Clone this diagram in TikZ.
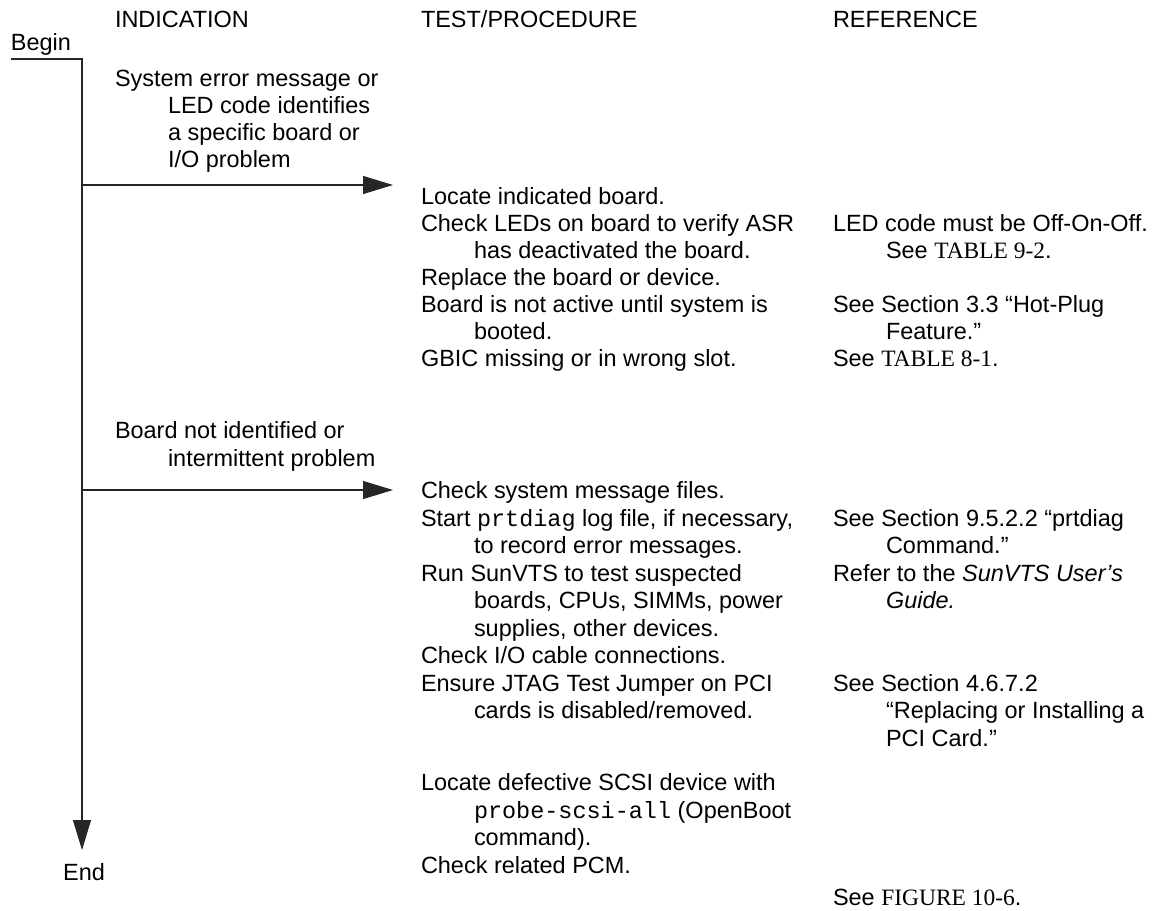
\documentclass[tikz,border=0pt]{standalone}
\usepackage{fontspec}
\setmainfont{Liberation Sans}
\setmonofont{Liberation Mono}
\newfontfamily\refserif{Liberation Serif}
\usetikzlibrary{arrows.meta}
\begin{document}
\begin{tikzpicture}[x=0.75pt,y=-0.75pt,
  txt/.style={anchor=base west,inner sep=0pt,outer sep=0pt,font=\fontsize{17.6pt}{20pt}\selectfont},
  flow/.style={line width=0.8pt,draw=black!85},
  tip/.style={-{Triangle[length=22.5pt,width=13.5pt]}}]
\useasboundingbox (0,0) rectangle (1169,910);
% headers
\node[txt] (hInd) at (115,27) {INDICATION};
\node[txt] (hTest) at (421,27) {TEST/PROCEDURE};
\node[txt] (hRef) at (833,27) {REFERENCE};
% begin / end
\node[txt] (begin) at (11,50) {Begin};
\node[txt,anchor=base] (end) at (84,880) {End};
% flow line
\coordinate (bstart) at (11,59);
\coordinate (corner) at (82,59);
\coordinate (etip) at (82,850);
\coordinate (br1) at (82,185);
\coordinate (tip1) at (393,185);
\coordinate (br2) at (82,490);
\coordinate (tip2) at (393,490);
\draw[flow,tip] (bstart) -- (corner) -- (etip);
\draw[flow,tip] (br1) -- (tip1);
\draw[flow,tip] (br2) -- (tip2);
% indication 1
\node[txt] (i1a) at (115,86) {System error message or};
\node[txt] (i1b) at (168,113) {LED code identifies};
\node[txt] (i1c) at (168,140) {a specific board or};
\node[txt] (i1d) at (168,167) {I/O problem};
% indication 2
\node[txt] (i2a) at (115,438) {Board not identified or};
\node[txt] (i2b) at (168,466) {intermittent problem};
% test block 1
\node[txt] (t1) at (421,204) {Locate indicated board.};
\node[txt] (t2) at (421,231) {Check LEDs on board to verify ASR};
\node[txt] (t2b) at (474,258) {has deactivated the board.};
\node[txt] (t3) at (421,285) {Replace the board or device.};
\node[txt] (t4) at (421,312) {Board is not active until system is};
\node[txt] (t4b) at (474,339) {booted.};
\node[txt] (t5) at (421,366) {GBIC missing or in wrong slot.};
% reference block 1
\node[txt] (r2) at (833,231) {LED code must be Off-On-Off.};
\node[txt] (r2b) at (886,258) {See {\refserif TABLE 9-2}.};
\node[txt] (r4) at (833,312) {See Section 3.3 “Hot-Plug};
\node[txt] (r4b) at (886,339) {Feature.”};
\node[txt] (r5) at (833,366) {See {\refserif TABLE 8-1}.};
% test block 2
\node[txt] (u1) at (421,498) {Check system message files.};
\node[txt] (u2) at (421,526) {Start \texttt{prtdiag} log file, if necessary,};
\node[txt] (u2b) at (474,553) {to record error messages.};
\node[txt] (u3) at (421,581) {Run SunVTS to test suspected};
\node[txt] (u3b) at (474,608) {boards, CPUs, SIMMs, power};
\node[txt] (u3c) at (474,636) {supplies, other devices.};
\node[txt] (u4) at (421,663) {Check I/O cable connections.};
\node[txt] (u5) at (421,691) {Ensure JTAG Test Jumper on PCI};
\node[txt] (u5b) at (474,718) {cards is disabled/removed.};
\node[txt] (u6) at (421,790) {Locate defective SCSI device with};
\node[txt] (u6b) at (474,818) {\texttt{probe-scsi-all} (OpenBoot};
\node[txt] (u6c) at (474,845) {command).};
\node[txt] (u7) at (421,873) {Check related PCM.};
% reference block 2
\node[txt] (s2) at (833,526) {See Section 9.5.2.2 “prtdiag};
\node[txt] (s2b) at (886,553) {Command.”};
\node[txt] (s3) at (833,581) {Refer to the \textit{SunVTS User’s}};
\node[txt] (s3b) at (886,608) {\textit{Guide.}};
\node[txt] (s5) at (833,691) {See Section 4.6.7.2};
\node[txt] (s5b) at (886,718) {“Replacing or Installing a};
\node[txt] (s5c) at (886,746) {PCI Card.”};
\node[txt] (s7) at (833,905) {See {\refserif FIGURE 10-6}.};
\end{tikzpicture}
\end{document}
